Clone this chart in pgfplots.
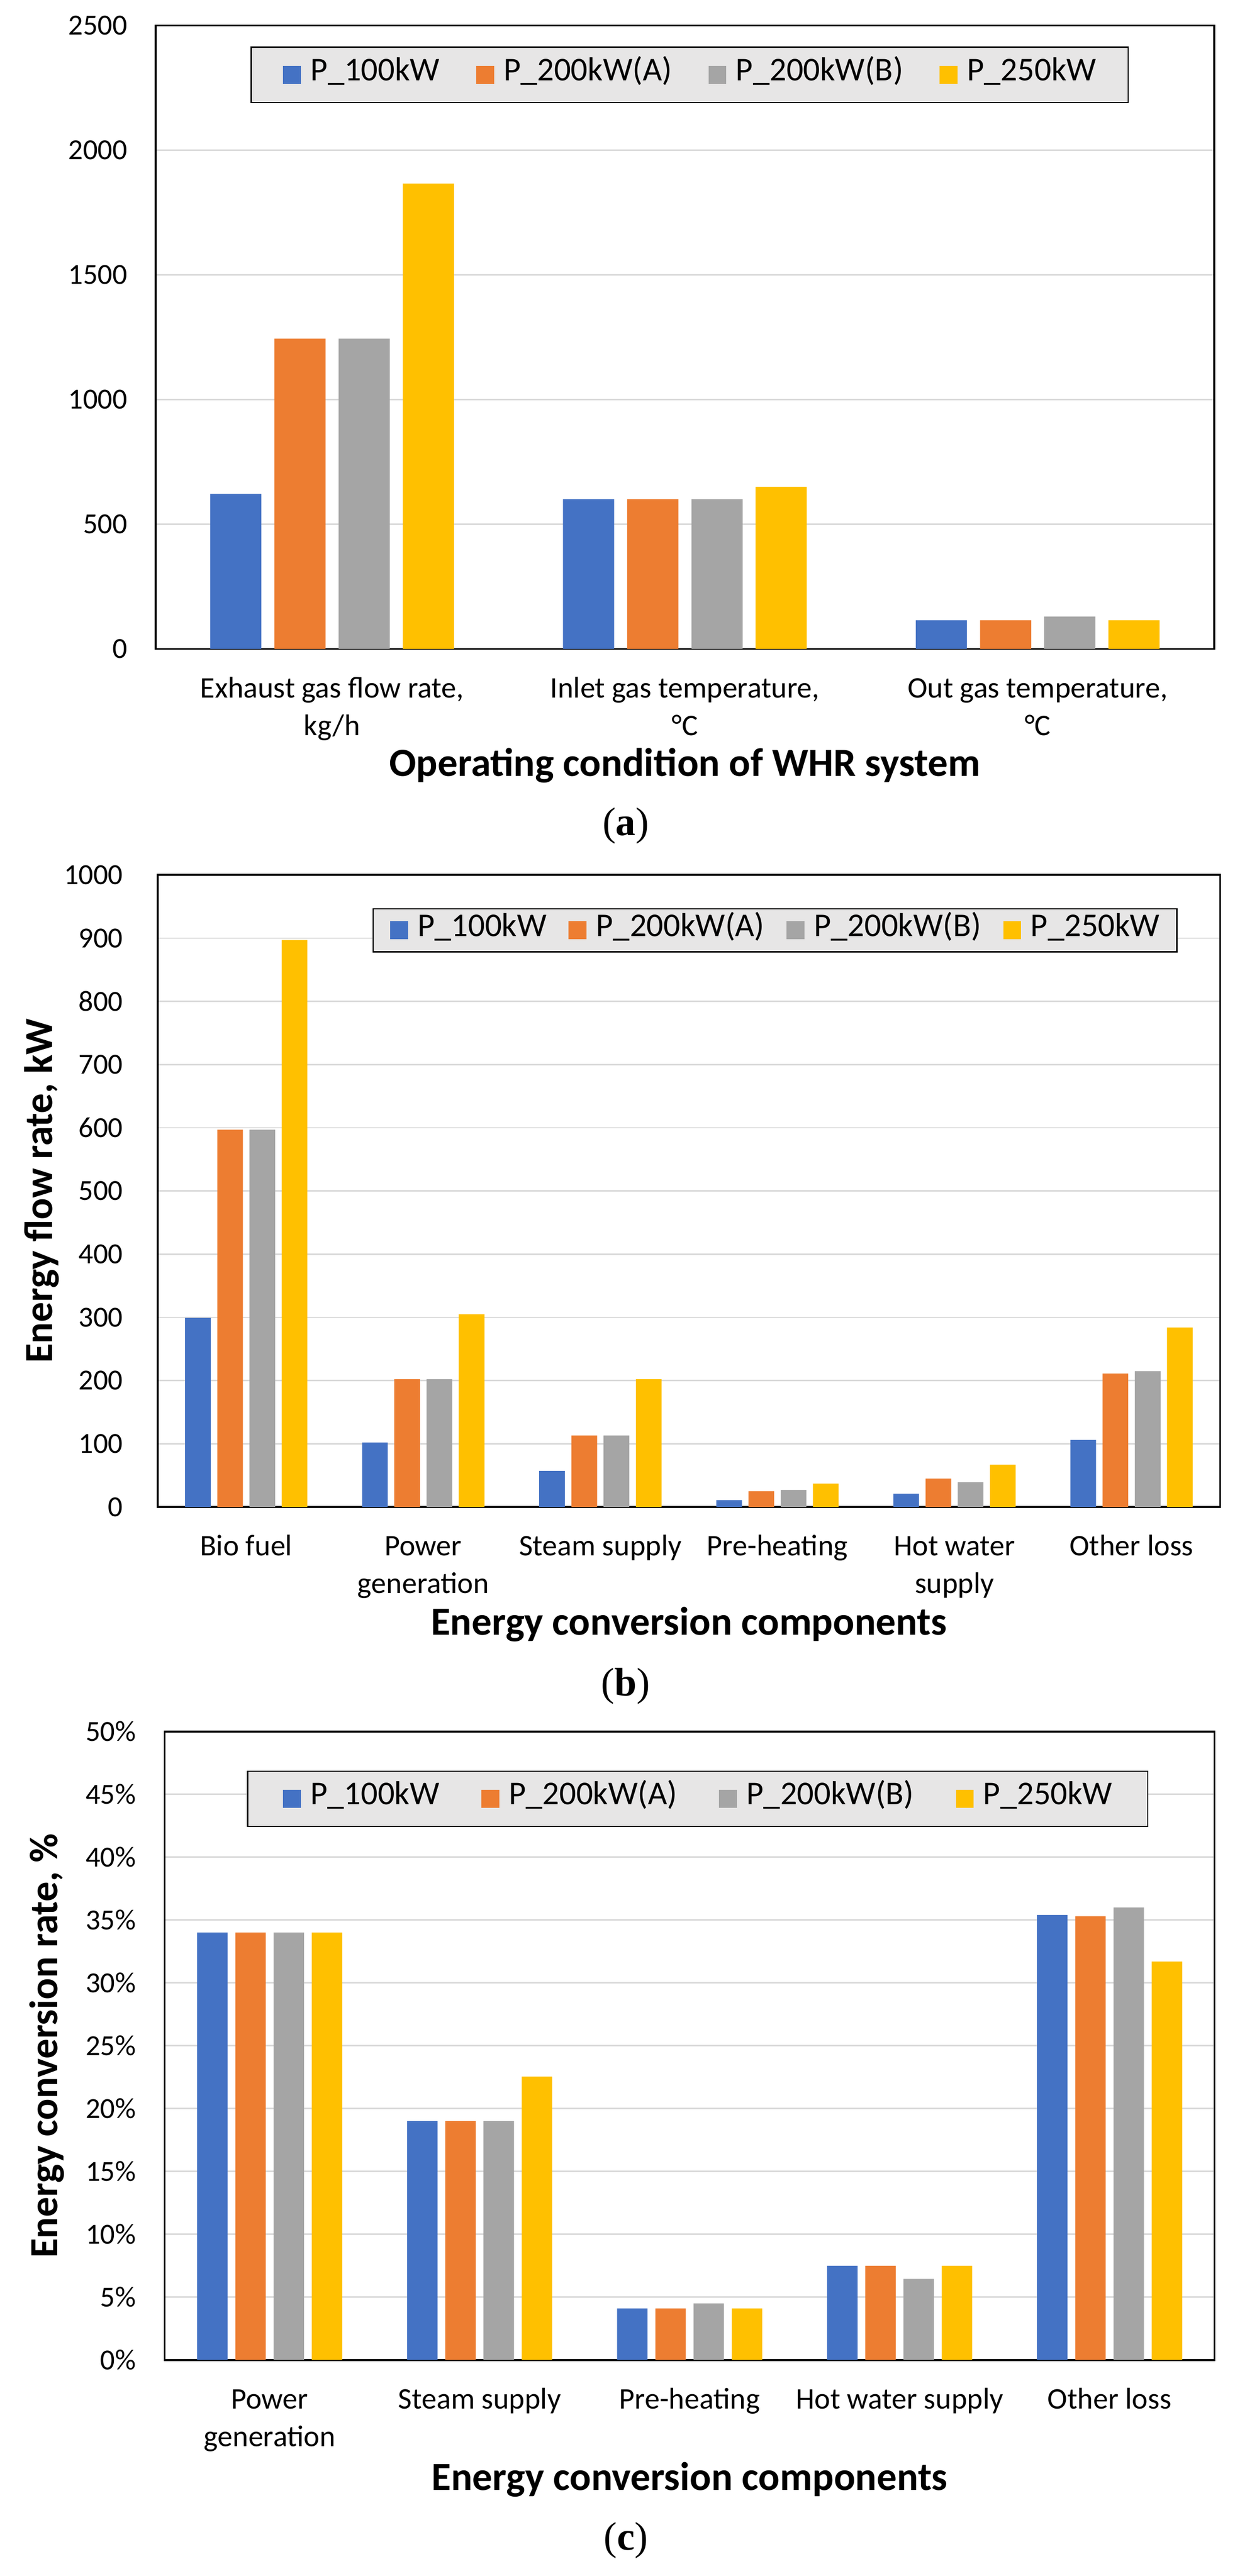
\documentclass[border=0pt]{standalone}
\usepackage{pgfplots}
\pgfplotsset{compat=1.18}
\usepackage{fontspec}
\setmainfont{Carlito}
\newfontfamily\labserif{Liberation Serif}
\definecolor{cA}{HTML}{4472C4}
\definecolor{cB}{HTML}{ED7D31}
\definecolor{cC}{HTML}{A5A5A5}
\definecolor{cD}{HTML}{FFC000}
\definecolor{gridgray}{HTML}{D9D9D9}
\definecolor{legfill}{HTML}{E7E6E6}
\newcommand{\tl}[1]{\begin{tabular}[t]{@{}c@{}}#1\end{tabular}}
\pgfplotsset{
  mybar/.style={
    scale only axis,
    ybar, bar width=0.145,
    ymin=0,
    enlarge x limits=false,
    axis line style={black, line width=1.1pt},
    ymajorgrids, grid style={draw=gridgray, line width=0.8pt},
    major tick length=0pt,
    tick style={draw=none},
    /pgf/number format/assume math mode=true,
    /pgf/number format/1000 sep={},
    scaled y ticks=false,
    yticklabel style={font=\fontsize{17.5pt}{21pt}\selectfont, anchor=east, inner sep=0pt},
    xticklabel style={font=\fontsize{18pt}{22.5pt}\selectfont, anchor=base, inner sep=0pt, yshift=-29.4pt},
    xlabel style={font=\fontsize{24pt}{28pt}\selectfont\bfseries, at={(axis description cs:0.5,0)}, anchor=base},
    ylabel style={font=\fontsize{24pt}{28pt}\selectfont\bfseries, anchor=base},
    legend columns=4,
    legend image code/.code={\fill[#1] (0pt,-5.4pt) rectangle (10.8pt,5.4pt);},
    legend style={fill=legfill, draw=black, line width=0.75pt, font=\fontsize{20pt}{24pt}\selectfont, anchor=center,
      nodes={inner sep=0pt, text height=0.8em, text depth=0.1em},
      /tikz/every odd column/.append style={column sep=5.7pt}},
  },
  sA/.style={fill=cA, draw=none, bar shift=-0.273},
  sB/.style={fill=cB, draw=none, bar shift=-0.091},
  sC/.style={fill=cC, draw=none, bar shift=0.091},
  sD/.style={fill=cD, draw=none, bar shift=0.273},
}
\begin{document}
\begin{tikzpicture}
\useasboundingbox (0pt,0pt) rectangle (745.2pt,1549.2pt);

% ---------------- (a) ----------------
\begin{axis}[mybar,
  at={(93.6pt,1158.9pt)}, anchor=south west,
  width=636.3pt, height=375pt,
  xmin=-0.5, xmax=2.5, ymax=2500, ytick distance=500,
  xtick={0,1,2},
  xticklabels={{\tl{Exhaust gas flow rate,\\kg/h}},{\tl{Inlet gas temperature,\\°C}},{\tl{Out gas temperature,\\°C}}},
  yticklabel style={xshift=-16.8pt},
  xlabel={Operating condition of WHR system},
  xlabel style={yshift=-76.5pt},
  legend style={at={(0.5045,0.9207)}, inner xsep=19.2pt, inner ysep=11.25pt,
    /tikz/every even column/.append style={column sep=21.9pt}},
]
\addplot[sA] coordinates {(0,622) (1,600) (2,115)};
\addplot[sB] coordinates {(0,1244) (1,600) (2,115)};
\addplot[sC] coordinates {(0,1244) (1,600) (2,130)};
\addplot[sD] coordinates {(0,1866) (1,650) (2,115)};
\legend{P\_100kW, P\_200kW(A), P\_200kW(B), P\_250kW}
\end{axis}
\node[anchor=base, font=\labserif\fontsize{24pt}{28pt}\selectfont] at (376.2pt,1046.7pt) {(\textbf{a})};

% ---------------- (b) ----------------
\begin{axis}[mybar,
  at={(94.8pt,642.9pt)}, anchor=south west,
  width=638.7pt, height=380.1pt,
  xmin=-0.5, xmax=5.5, ymax=1000, ytick distance=100,
  xtick={0,1,2,3,4,5},
  xticklabels={{Bio fuel},{\tl{Power\\generation}},{Steam supply},{Pre-heating},{\tl{Hot water\\supply}},{Other loss}},
  yticklabel style={xshift=-20.7pt},
  xlabel={Energy conversion components},
  xlabel style={yshift=-77.1pt},
  ylabel={Energy flow rate, kW},
  ylabel style={at={(axis description cs:-0.0991,0.5)}},
  legend style={at={(0.581,0.9124)}, inner xsep=10.25pt, inner ysep=7.5pt,
    /tikz/every even column/.append style={column sep=13.2pt}},
]
\addplot[sA] coordinates {(0,299) (1,102) (2,57) (3,11) (4,21) (5,106)};
\addplot[sB] coordinates {(0,597) (1,202) (2,113) (3,25) (4,45) (5,211)};
\addplot[sC] coordinates {(0,597) (1,202) (2,113) (3,27) (4,39) (5,215)};
\addplot[sD] coordinates {(0,897) (1,305) (2,202) (3,37) (4,67) (5,284)};
\legend{P\_100kW, P\_200kW(A), P\_200kW(B), P\_250kW}
\end{axis}
\node[anchor=base, font=\labserif\fontsize{24pt}{28pt}\selectfont] at (376.2pt,529.2pt) {(\textbf{b})};

% ---------------- (c) ----------------
\begin{axis}[mybar,
  at={(99pt,129.9pt)}, anchor=south west,
  width=631.2pt, height=378pt,
  xmin=-0.5, xmax=4.5, ymax=50, ytick distance=5,
  yticklabel={\pgfmathprintnumber{\tick}\%},
  xtick={0,1,2,3,4},
  xticklabels={{\tl{Power\\generation}},{Steam supply},{Pre-heating},{Hot water supply},{Other loss}},
  yticklabel style={xshift=-17.1pt},
  xlabel={Energy conversion components},
  xlabel style={yshift=-78.3pt},
  ylabel={Energy conversion rate, \%},
  ylabel style={at={(axis description cs:-0.1022,0.5)}},
  legend style={at={(0.5076,0.8928)}, inner xsep=21.2pt, inner ysep=11.1pt,
    /tikz/every even column/.append style={column sep=25.2pt}},
]
\addplot[sA] coordinates {(0,34.0) (1,19.0) (2,4.1) (3,7.5) (4,35.4)};
\addplot[sB] coordinates {(0,34.0) (1,19.0) (2,4.1) (3,7.5) (4,35.3)};
\addplot[sC] coordinates {(0,34.0) (1,19.0) (2,4.5) (3,6.45) (4,36.0)};
\addplot[sD] coordinates {(0,34.0) (1,22.55) (2,4.1) (3,7.5) (4,31.7)};
\legend{P\_100kW, P\_200kW(A), P\_200kW(B), P\_250kW}
\end{axis}
\node[anchor=base, font=\labserif\fontsize{24pt}{28pt}\selectfont] at (376.2pt,15.6pt) {(\textbf{c})};
\end{tikzpicture}
\end{document}
